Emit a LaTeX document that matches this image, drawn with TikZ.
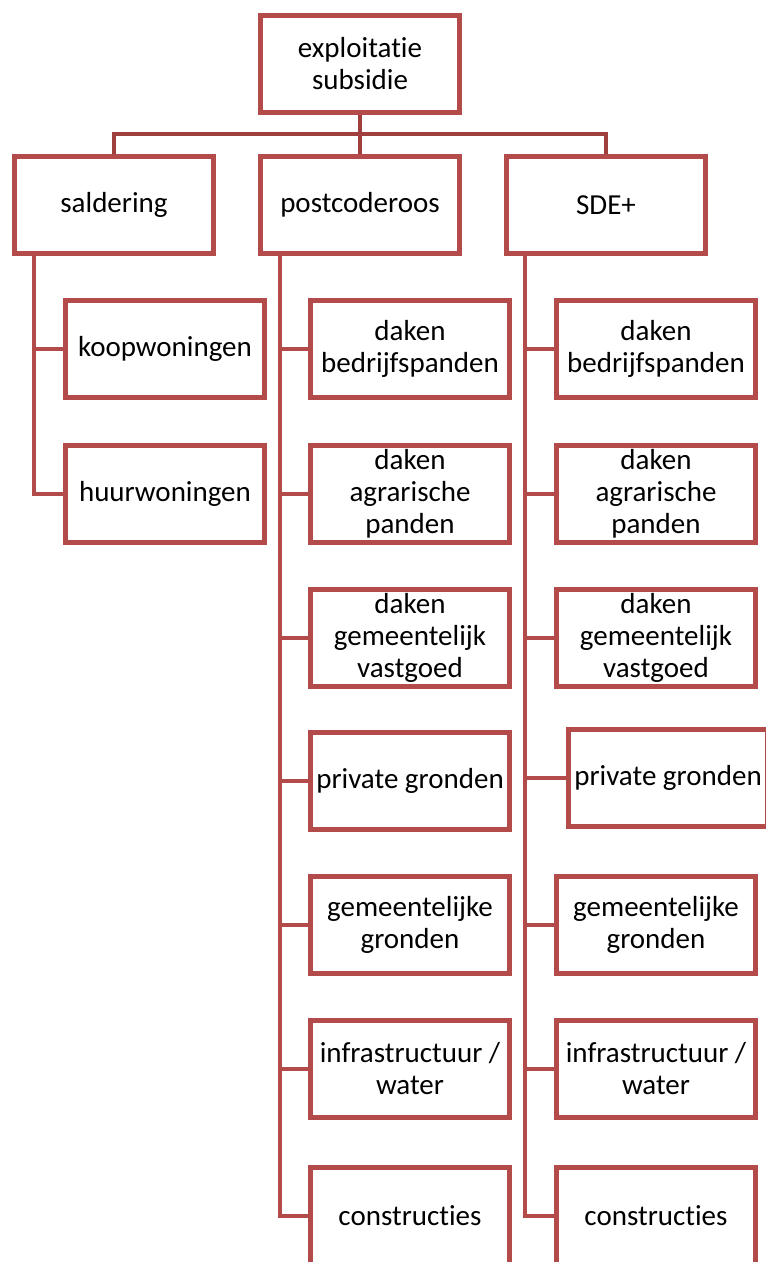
\documentclass[tikz,border=0pt]{standalone}
\usepackage{fontspec}
\setmainfont[Ligatures=NoCommon]{Carlito}
\definecolor{boxred}{RGB}{178,75,73}
\definecolor{linkred}{RGB}{160,64,62}
\tikzset{
  orgbox/.style={draw=boxred, line width=5pt, fill=white, minimum width=199pt, minimum height=97pt,
    inner sep=0pt, align=center, font=\fontsize{29}{32}\selectfont},
  toplink/.style={draw=linkred, line width=4.5pt},
  sidelink/.style={draw=boxred, line width=4.5pt}
}
\begin{document}
\begin{tikzpicture}[x=1pt, y=-1pt]
        \useasboundingbox (0,0) rectangle (766,1262);

        %%-top
        \node[orgbox] (top) at (360,64) {exploitatie\\subsidie};
        \node[orgbox] (sald) at (114,205) {saldering};
        \node[orgbox] (post) at (360,205) {postcoderoos};
        \node[orgbox] (sde) at (606,205) {SDE+};

        \draw[toplink] (top.south) -- (post.north);
        \draw[toplink] (sald.north) -- ++(0,-20) -| (sde.north);

        %%-saldering
        \node[orgbox] (koop) at (165,349) {koopwoningen};
        \node[orgbox] (huur) at (165,494) {huurwoningen};

        \coordinate (saldline) at ([xshift=22pt]sald.south west);
        \draw[sidelink] (saldline) |- (huur.west);
        \draw[sidelink] (koop.west) -- (koop.west -| saldline);

        %%-postcoderoos
        \node[orgbox] (postA) at (410,349) {daken\\bedrijfspanden};
        \node[orgbox] (postB) at (410,494) {daken\\agrarische\\panden};
        \node[orgbox] (postC) at (410,638) {daken\\gemeentelijk\\vastgoed};
        \node[orgbox] (postD) at (410,781) {private gronden};
        \node[orgbox] (postE) at (410,925) {gemeentelijke\\gronden};
        \node[orgbox] (postF) at (410,1069) {infrastructuur /\\water};
        \node[orgbox] (postG) at (410,1216) {constructies};

        \coordinate (postline) at ([xshift=22pt]post.south west);
        \draw[sidelink] (postline) |- (postG.west);
        \draw[sidelink] (postA.west) -- (postA.west -| postline);
        \draw[sidelink] (postB.west) -- (postB.west -| postline);
        \draw[sidelink] (postC.west) -- (postC.west -| postline);
        \draw[sidelink] (postD.west) -- (postD.west -| postline);
        \draw[sidelink] (postE.west) -- (postE.west -| postline);
        \draw[sidelink] (postF.west) -- (postF.west -| postline);

        %%-SDE+
        \node[orgbox] (sdeA) at (656,349) {daken\\bedrijfspanden};
        \node[orgbox] (sdeB) at (656,494) {daken\\agrarische\\panden};
        \node[orgbox] (sdeC) at (656,638) {daken\\gemeentelijk\\vastgoed};
        \node[orgbox] (sdeD) at (668,778) {private gronden};
        \node[orgbox] (sdeE) at (656,925) {gemeentelijke\\gronden};
        \node[orgbox] (sdeF) at (656,1069) {infrastructuur /\\water};
        \node[orgbox] (sdeG) at (656,1216) {constructies};

        \coordinate (sdeline) at ([xshift=21pt]sde.south west);
        \draw[sidelink] (sdeline) |- (sdeG.west);
        \draw[sidelink] (sdeA.west) -- (sdeA.west -| sdeline);
        \draw[sidelink] (sdeB.west) -- (sdeB.west -| sdeline);
        \draw[sidelink] (sdeC.west) -- (sdeC.west -| sdeline);
        \draw[sidelink] (sdeD.west) -- (sdeD.west -| sdeline);
        \draw[sidelink] (sdeE.west) -- (sdeE.west -| sdeline);
        \draw[sidelink] (sdeF.west) -- (sdeF.west -| sdeline);
\end{tikzpicture}
\end{document}
